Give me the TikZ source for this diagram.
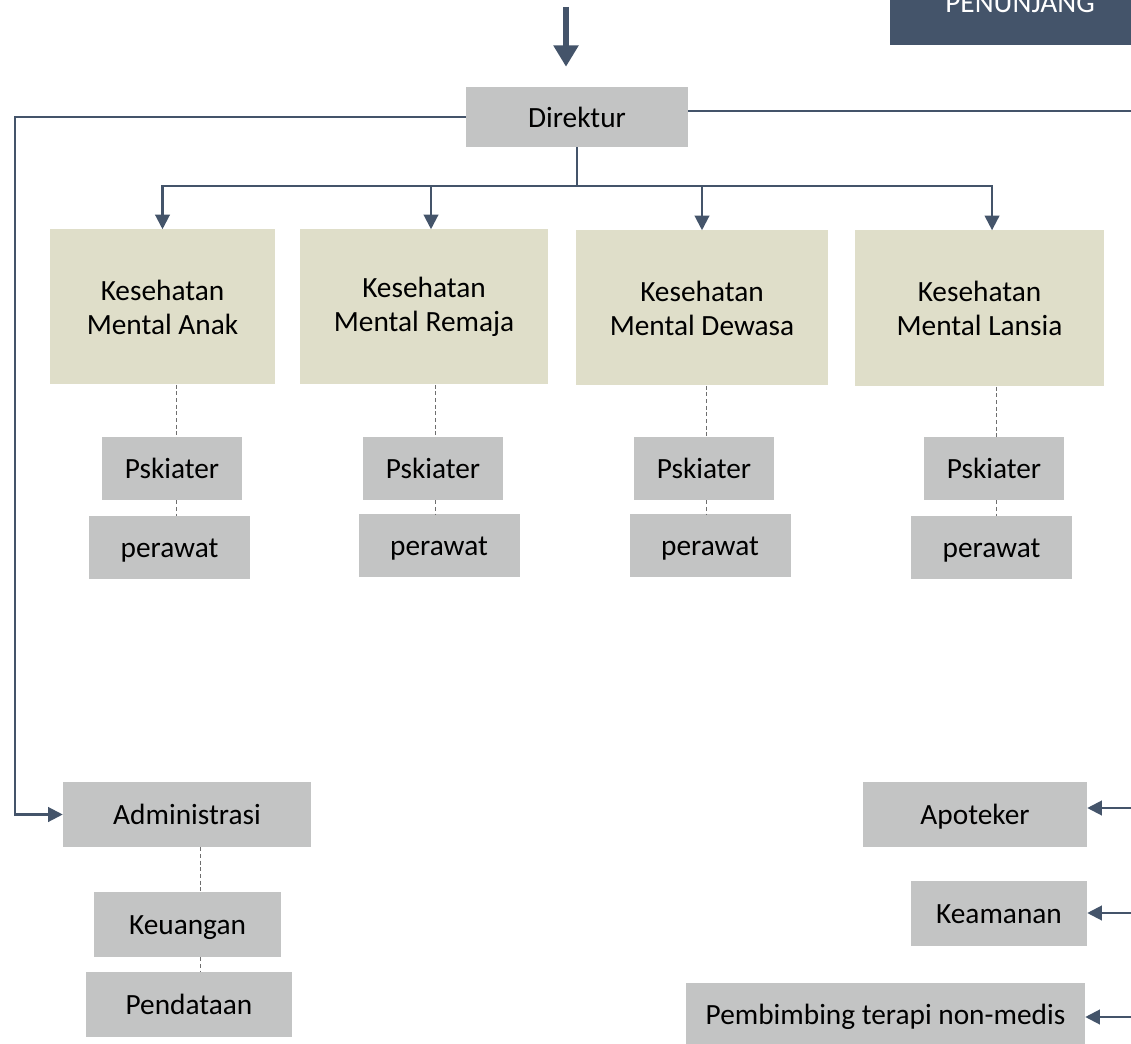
\documentclass[tikz,border=0pt]{standalone}
\usepackage{fontspec}
\setmainfont{Carlito}
\usetikzlibrary{arrows.meta,positioning}

\definecolor{garisbiru}{RGB}{68,84,106}
\definecolor{abu}{RGB}{195,196,196}
\definecolor{krem}{RGB}{223,222,201}
\definecolor{putusabu}{RGB}{110,110,110}

\begin{document}
\begin{tikzpicture}[
    x=0.75pt,y=-0.75pt,
    every node/.style={font=\fontsize{22}{25.5}\selectfont,inner sep=0pt},
    kotak/.style={fill=abu,minimum height=48.75pt,text height=20pt,text depth=4.8pt},
    unit/.style={fill=krem,minimum height=116.25pt,align=center},
    judul/.style={fill=garisbiru,text=white,text height=20pt,text depth=4.8pt},
    panah/.style={-{Triangle[length=11pt,width=11pt]},garisbiru,line width=1.6pt},
    garis/.style={garisbiru,line width=1.6pt},
    panahbesar/.style={-{Triangle[length=16pt,width=18pt]},garisbiru,line width=5pt},
    putus/.style={putusabu,line width=0.6pt,dash pattern=on 3pt off 2pt}
  ]
    \useasboundingbox (0,0) rectangle (1131,1044);
    \clip (0,0) rectangle (1131,1044);

    \node[judul,minimum width=195pt,minimum height=63.75pt] (penunjang) at (1020,2.5) {PENUNJANG};
    \node[kotak,minimum width=166.5pt,minimum height=45pt] (direktur) at (577,117) {Direktur};

    \node[unit,minimum width=168.75pt] (anak) at (162.5,307) {Kesehatan\\Mental Anak};
    \node[unit,minimum width=186pt] (remaja) at (424,307) {Kesehatan\\Mental Remaja};
    \node[unit,minimum width=189pt] (dewasa) at (702,308) {Kesehatan\\Mental Dewasa};
    \node[unit,minimum width=186.75pt,minimum height=117pt] (lansia) at (979.5,308.5) {Kesehatan\\Mental Lansia};

    \node[kotak,minimum width=105pt,minimum height=47.25pt] (pskanak) at (172,468.5) {Pskiater};
    \node[kotak,minimum width=120.75pt,minimum height=47.25pt] (prwanak) at (169.5,547.5) {perawat};
    \node[kotak,minimum width=105pt,minimum height=47.25pt] (pskremaja) at (433,468.5) {Pskiater};
    \node[kotak,minimum width=120.75pt,minimum height=47.25pt] (prwremaja) at (439,545.5) {perawat};
    \node[kotak,minimum width=105pt,minimum height=47.25pt] (pskdewasa) at (704,468.5) {Pskiater};
    \node[kotak,minimum width=120.75pt,minimum height=47.25pt] (prwdewasa) at (710,545.5) {perawat};
    \node[kotak,minimum width=105pt,minimum height=47.25pt] (psklansia) at (994,468.5) {Pskiater};
    \node[kotak,minimum width=120.75pt,minimum height=47.25pt] (prwlansia) at (991.5,547.5) {perawat};

    \node[kotak,minimum width=186pt] (admin) at (187,814.5) {Administrasi};
    \node[kotak,minimum width=140.25pt] (keuangan) at (187.5,924.5) {Keuangan};
    \node[kotak,minimum width=154.5pt] (pendataan) at (189,1004.5) {Pendataan};

    \node[kotak,minimum width=168pt] (apoteker) at (975,814.5) {Apoteker};
    \node[kotak,minimum width=132pt] (keamanan) at (999,913.5) {Keamanan};
    \node[kotak,minimum width=299.25pt,minimum height=46.5pt] (pembimbing) at (885.5,1014) {Pembimbing terapi non-medis};

    \coordinate (atas) at (566,7);
    \coordinate (cabang) at (577,186);
    \coordinate (kiri) at (15,500);
    \coordinate (kanan1) at (1131,111);
    \coordinate (kanan2) at (1131,808);
    \coordinate (kanan3) at (1131,913);
    \coordinate (kanan4) at (1131,1017);

    \draw[panahbesar] (atas) -- ([yshift=15pt]direktur.north -| atas);
    \draw[panah] (direktur.west) -| (kiri) |- (admin.west);
    \draw[garis] ([yshift=4.5pt]direktur.east) -- (kanan1);
    \draw[garis] (direktur.south) -- (cabang);
    \draw[panah] (cabang) -| (anak.north);
    \draw[panah] (cabang) -| ([xshift=5.25pt]remaja.north);
    \draw[panah] (cabang) -| (dewasa.north);
    \draw[panah] (cabang) -| ([xshift=9.4pt]lansia.north);

    \draw[putus] ([xshift=3pt]anak.south -| pskanak.north) -- ([xshift=3pt]pskanak.north);
    \draw[putus] ([xshift=3pt]pskanak.south) -- ([xshift=3pt]pskanak.south |- prwanak.north);
    \draw[putus] ([xshift=1.5pt]remaja.south -| pskremaja.north) -- ([xshift=1.5pt]pskremaja.north);
    \draw[putus] ([xshift=1.5pt]pskremaja.south) -- ([xshift=1.5pt]pskremaja.south |- prwremaja.north);
    \draw[putus] ([xshift=1.5pt]dewasa.south -| pskdewasa.north) -- ([xshift=1.5pt]pskdewasa.north);
    \draw[putus] ([xshift=1.5pt]pskdewasa.south) -- ([xshift=1.5pt]pskdewasa.south |- prwdewasa.north);
    \draw[putus] ([xshift=1.5pt]lansia.south -| psklansia.north) -- ([xshift=1.5pt]psklansia.north);
    \draw[putus] ([xshift=1.5pt]psklansia.south) -- ([xshift=1.5pt]psklansia.south |- prwlansia.north);
    \draw[putus] ([xshift=9.75pt]admin.south) -- ([xshift=9.75pt]admin.south |- keuangan.north);
    \draw[putus] ([xshift=9.75pt]keuangan.south -| admin.south) -- ([xshift=9.75pt]admin.south |- pendataan.north);

    \draw[panah] (kanan2) -- (kanan2 -| apoteker.east);
    \draw[panah] (kanan3) -- (kanan3 -| keamanan.east);
    \draw[panah] (kanan4) -- (kanan4 -| pembimbing.east);
  \end{tikzpicture}
\end{document}
